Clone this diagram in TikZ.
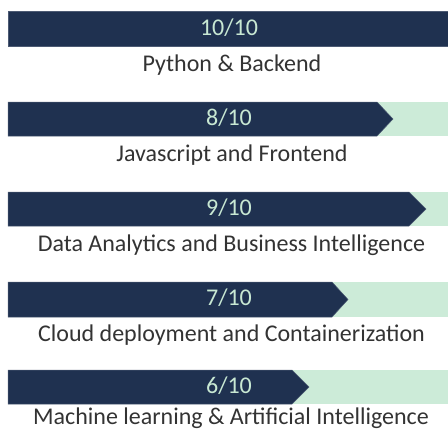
\documentclass[tikz,border=0pt]{standalone}
\usepackage{fontspec}
\setmainfont{Carlito}
\definecolor{navy}{HTML}{1F3150}
\definecolor{mint}{HTML}{CCEBD8}
\definecolor{scoretxt}{HTML}{C8E8D3}
\definecolor{labeltxt}{HTML}{333333}
\tikzset{
  track/.style={fill=mint, draw=none},
  fillbar/.style={fill=navy, draw=navy!80!white, line width=0.5pt},
  score/.style={text=scoretxt, font=\fontsize{24}{24}\selectfont, inner sep=0pt, anchor=base},
  skill/.style={text=labeltxt, font=\fontsize{24}{24}\selectfont, inner sep=0pt, anchor=base},
}
\begin{document}
\begin{tikzpicture}[x=1pt,y=-1pt]
\useasboundingbox (0,0) rectangle (448,432);
% bar 1 : 10/10
\fill[track] (8,11) rectangle (448,46);
\path[fillbar] (8,11) rectangle (448,46);
\node[score] (s1) at (229,35) {10/10};
\node[skill] (l1) at (232,71.5) {Python \& Backend};
% bar 2 : 8/10
\fill[track] (8,102) rectangle (448,136);
\path[fillbar] (8,102) -- (377,102) -- (393,119) -- (377,136) -- (8,136) -- cycle;
\node[score] (s2) at (229,125) {8/10};
\node[skill] (l2) at (232,161) {Javascript and Frontend};
% bar 3 : 9/10
\fill[track] (8,192) rectangle (448,226);
\path[fillbar] (8,192) -- (409,192) -- (426,209) -- (409,226) -- (8,226) -- cycle;
\node[score] (s3) at (229,215) {9/10};
\node[skill] (l3) at (231.5,251) {Data Analytics and Business Intelligence};
% bar 4 : 7/10
\fill[track] (8,282) rectangle (448,317);
\path[fillbar] (8,282) -- (332,282) -- (348,299.5) -- (332,317) -- (8,317) -- cycle;
\node[score] (s4) at (229,305.5) {7/10};
\node[skill] (l4) at (231.5,341) {Cloud deployment and Containerization};
% bar 5 : 6/10
\fill[track] (8,370) rectangle (448,404);
\path[fillbar] (8,370) -- (292,370) -- (309,387) -- (292,404) -- (8,404) -- cycle;
\node[score] (s5) at (229,393) {6/10};
\node[skill] (l5) at (231,424.5) {Machine learning \& Artificial Intelligence};
\end{tikzpicture}
\end{document}
